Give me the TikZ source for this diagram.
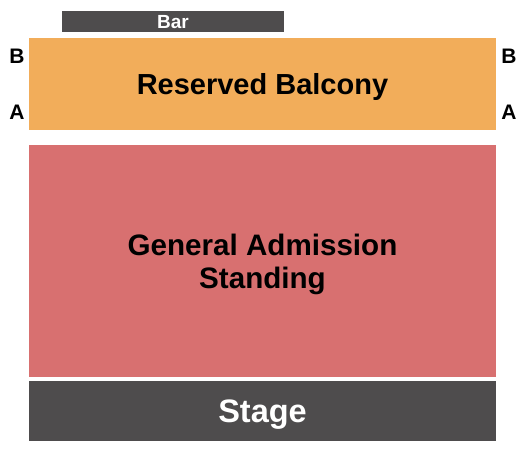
\documentclass[tikz,border=0pt]{standalone}
\usepackage{fontspec}
\setmainfont{Liberation Sans}
\usepackage{xcolor}
\usetikzlibrary{positioning}
\definecolor{barcol}{HTML}{4E4C4D}
\definecolor{balcol}{HTML}{F2AD5A}
\definecolor{gacol}{HTML}{D87070}
\tikzset{%
	section/.style  = {rectangle, anchor=north west, inner sep=0pt, outer sep=0pt, align=center, text depth=0pt}, % Seating block
	darkzone/.style = {section, fill=barcol, text=white}, % Bar, stage
	rowlabel/.style = {inner sep=0pt, font=\fontsize{21}{21}\selectfont\bfseries}, % Row letters
}

\begin{document}
\begin{tikzpicture}[x=1pt,y=-1pt]
	\useasboundingbox (0,0) rectangle (525,450);
	\node [darkzone, minimum width=222pt, minimum height=21pt, font=\fontsize{19}{19}\selectfont\bfseries] (bar) at (62,11) {Bar};
	\node [section, fill=balcol, minimum width=467pt, minimum height=92pt, font=\fontsize{29}{29}\selectfont\bfseries] (balcony) at (29,38) {Reserved Balcony};
	\node [section, fill=gacol, minimum width=467pt, minimum height=232pt, font=\fontsize{29.6}{33}\selectfont\bfseries] (ga) at (29,145) {General Admission\\Standing};
	\node [darkzone, minimum width=467pt, minimum height=60pt, font=\fontsize{32.5}{32.5}\selectfont\bfseries] (stage) at (29,381) {Stage};
	
	\node [rowlabel] (rowBl) at (17,56) {B};
	\node [rowlabel] (rowAl) at (17,112.5) {A};
	\node [rowlabel] (rowBr) at (509,56) {B};
	\node [rowlabel] (rowAr) at (509,112.5) {A};
\end{tikzpicture}
\end{document}
